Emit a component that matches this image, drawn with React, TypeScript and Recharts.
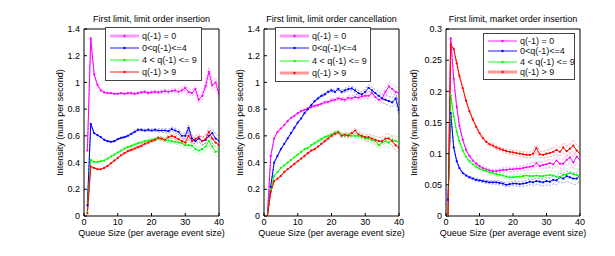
import React from 'react';
import { LineChart, Line, XAxis, YAxis } from 'recharts';

const W = 615;
const H = 256;
const FONT = '"Liberation Sans", Arial, Helvetica, sans-serif';

const seriesNames = ['q(-1) = 0', '0<q(-1)<=4', '4 < q(-1) <= 9', 'q(-1) > 9'];
const seriesColors = ['#ff00ff', '#0000ff', '#00ff00', '#ff0000'];
const legendSwatch = ['#ff99ff', '#9999ff', '#99ff99', '#ff9999'];

const xTicks = [0, 10, 20, 30, 40];
const yTicksLimit = [0, 0.2, 0.4, 0.6, 0.8, 1, 1.2, 1.4];
const yTicksMarket = [0, 0.05, 0.1, 0.15, 0.2, 0.25, 0.3];

const queueSize = [1, 2, 3, 4, 5, 6, 7, 8, 9, 10, 11, 12, 13, 14, 15, 16, 17, 18, 19, 20,
  21, 22, 23, 24, 25, 26, 27, 28, 29, 30, 31, 32, 33, 34, 35, 36, 37, 38, 39, 40];
const queueSizeMkt = [0.6, 1.4, 2.3, 3.2, 4, 5, 6, 7, 8, 9, 10, 11, 12, 13, 14, 15, 16, 17, 18, 19, 20,
  21, 22, 23, 24, 25, 26, 27, 28, 29, 30, 31, 32, 33, 34, 35, 36, 37, 38, 39, 40];

// Panel 1: limit order insertion
const insQ0 = [0.49, 1.33, 1.06, 0.98, 0.94, 0.925, 0.92, 0.92, 0.915, 0.915, 0.92, 0.915, 0.92, 0.92, 0.915, 0.92, 0.925, 0.93, 0.92, 0.925,
  0.93, 0.925, 0.93, 0.935, 0.93, 0.935, 0.94, 0.93, 0.94, 0.96, 0.93, 0.92, 0.95, 0.87, 0.9, 0.97, 1.08, 0.98, 1.0, 0.91];
const insQ4 = [0.08, 0.69, 0.62, 0.605, 0.59, 0.57, 0.56, 0.555, 0.56, 0.575, 0.585, 0.59, 0.6, 0.615, 0.63, 0.645, 0.645, 0.64, 0.645, 0.64,
  0.645, 0.64, 0.64, 0.64, 0.635, 0.65, 0.64, 0.63, 0.6, 0.6, 0.66, 0.58, 0.56, 0.58, 0.56, 0.57, 0.6, 0.62, 0.58, 0.56];
const insQ9 = [0.03, 0.42, 0.405, 0.405, 0.41, 0.415, 0.43, 0.445, 0.46, 0.475, 0.49, 0.505, 0.515, 0.525, 0.535, 0.545, 0.55, 0.56, 0.565, 0.57,
  0.575, 0.58, 0.575, 0.57, 0.565, 0.56, 0.555, 0.55, 0.545, 0.53, 0.53, 0.525, 0.5, 0.49, 0.5, 0.52, 0.56, 0.52, 0.48, 0.49];
const insQ10 = [0.02, 0.37, 0.36, 0.35, 0.35, 0.36, 0.375, 0.395, 0.415, 0.435, 0.455, 0.47, 0.485, 0.495, 0.505, 0.515, 0.525, 0.54, 0.55, 0.56,
  0.57, 0.585, 0.58, 0.57, 0.59, 0.6, 0.59, 0.575, 0.56, 0.55, 0.6, 0.56, 0.575, 0.59, 0.56, 0.575, 0.63, 0.58, 0.55, 0.53];
const insBand = [0.002, 0.003, 0.003, 0.003, 0.004, 0.004, 0.004, 0.005, 0.005, 0.005, 0.006, 0.006, 0.007, 0.007, 0.008, 0.008, 0.009, 0.009, 0.01, 0.01,
  0.011, 0.012, 0.013, 0.014, 0.015, 0.016, 0.017, 0.018, 0.019, 0.02, 0.021, 0.023, 0.024, 0.026, 0.027, 0.029, 0.031, 0.033, 0.035, 0.037];

// Panel 2: limit order cancellation
const canQ0 = [0, 0.45, 0.58, 0.63, 0.655, 0.68, 0.71, 0.735, 0.75, 0.77, 0.785, 0.795, 0.805, 0.815, 0.825, 0.83, 0.84, 0.85, 0.855, 0.865,
  0.87, 0.88, 0.875, 0.87, 0.885, 0.88, 0.89, 0.885, 0.895, 0.9, 0.9, 0.92, 0.89, 0.87, 0.88, 0.93, 0.97, 0.95, 0.93, 0.92];
const canQ4 = [0, 0.22, 0.4, 0.45, 0.5, 0.54, 0.58, 0.62, 0.66, 0.7, 0.73, 0.77, 0.8, 0.83, 0.86, 0.88, 0.9, 0.91, 0.93, 0.94,
  0.93, 0.95, 0.93, 0.94, 0.95, 0.955, 0.94, 0.92, 0.91, 0.93, 0.96, 0.94, 0.92, 0.9, 0.88, 0.87, 0.86, 0.85, 0.88, 0.79];
const canQ9 = [0, 0.2, 0.3, 0.33, 0.36, 0.38, 0.4, 0.42, 0.44, 0.46, 0.48, 0.5, 0.51, 0.53, 0.545, 0.56, 0.575, 0.59, 0.6, 0.61,
  0.625, 0.63, 0.61, 0.6, 0.61, 0.6, 0.6, 0.6, 0.59, 0.58, 0.58, 0.57, 0.56, 0.53, 0.55, 0.56, 0.55, 0.57, 0.56, 0.55];
const canQ10 = [0, 0.18, 0.26, 0.28, 0.3, 0.33, 0.35, 0.37, 0.39, 0.41, 0.43, 0.45, 0.47, 0.49, 0.5, 0.52, 0.54, 0.56, 0.58, 0.6,
  0.615, 0.625, 0.6, 0.61, 0.6, 0.62, 0.64, 0.61, 0.6, 0.59, 0.59, 0.58, 0.57, 0.56, 0.56, 0.58, 0.58, 0.56, 0.53, 0.51];
const canBand = [0.002, 0.003, 0.003, 0.003, 0.004, 0.004, 0.004, 0.005, 0.005, 0.005, 0.006, 0.006, 0.007, 0.007, 0.008, 0.008, 0.009, 0.009, 0.01, 0.011,
  0.012, 0.013, 0.014, 0.015, 0.016, 0.017, 0.018, 0.019, 0.02, 0.021, 0.023, 0.024, 0.026, 0.028, 0.03, 0.032, 0.034, 0.036, 0.038, 0.04];

// Panel 3: market order insertion
const mktQ0 = [0, 0.285, 0.22, 0.175, 0.145, 0.122, 0.106, 0.096, 0.089, 0.084, 0.08, 0.077, 0.075, 0.073, 0.072, 0.072, 0.073, 0.074, 0.074, 0.075,
  0.075, 0.076, 0.076, 0.077, 0.078, 0.079, 0.08, 0.085, 0.08, 0.082, 0.083, 0.085, 0.083, 0.089, 0.084, 0.084, 0.09, 0.094, 0.086, 0.095, 0.09];
const mktQ4 = [0.026, 0.165, 0.11, 0.088, 0.077, 0.069, 0.065, 0.062, 0.06, 0.058, 0.057, 0.056, 0.055, 0.054, 0.054, 0.054, 0.053, 0.052, 0.05, 0.051,
  0.052, 0.052, 0.051, 0.052, 0.053, 0.055, 0.054, 0.056, 0.055, 0.054, 0.056, 0.055, 0.058, 0.057, 0.062, 0.06, 0.064, 0.062, 0.06, 0.06, 0.065];
const mktQ9 = [0, 0.194, 0.16, 0.135, 0.12, 0.105, 0.095, 0.088, 0.083, 0.079, 0.076, 0.074, 0.072, 0.07, 0.069, 0.067, 0.066, 0.065, 0.063, 0.062,
  0.062, 0.063, 0.063, 0.064, 0.065, 0.064, 0.064, 0.065, 0.064, 0.064, 0.065, 0.066, 0.065, 0.063, 0.062, 0.066, 0.067, 0.069, 0.067, 0.066, 0.064];
const mktQ10 = [0, 0.275, 0.268, 0.245, 0.225, 0.205, 0.185, 0.168, 0.155, 0.143, 0.133, 0.125, 0.119, 0.115, 0.113, 0.11, 0.108, 0.106, 0.104, 0.103,
  0.102, 0.101, 0.1, 0.099, 0.098, 0.098, 0.1, 0.109, 0.099, 0.098, 0.1, 0.101, 0.103, 0.106, 0.103, 0.11, 0.104, 0.108, 0.113, 0.105, 0.1];
const mktBand = [0.001, 0.002, 0.002, 0.002, 0.002, 0.002, 0.002, 0.002, 0.002, 0.002, 0.002, 0.0025, 0.0025, 0.0025, 0.003, 0.003, 0.003, 0.003, 0.0035, 0.0035,
  0.0035, 0.004, 0.004, 0.004, 0.0045, 0.0045, 0.005, 0.005, 0.0055, 0.0055, 0.006, 0.006, 0.0065, 0.007, 0.007, 0.0075, 0.008, 0.0085, 0.009, 0.0095, 0.01];

type PanelCfg = {
  title: string;
  xs: number[];
  series: number[][];
  band: number[];
  yDomain: [number, number];
  yTicks: number[];
  boxLeft: number;
  boxWidth: number;
  plotLeft: number;
  plotRight: number;
  yLabelOffset: number;
  legend: { left: number; top: number; width: number; height: number; thick: boolean[] };
};

const panels: PanelCfg[] = [
  {
    title: 'First limit, limit order insertion',
    xs: queueSize, series: [insQ0, insQ4, insQ9, insQ10], band: insBand,
    yDomain: [0, 1.4], yTicks: yTicksLimit, boxLeft: 0, boxWidth: 245, plotLeft: 84, plotRight: 219, yLabelOffset: 6,
    legend: { left: 105, top: 27, width: 97, height: 54, thick: [true, false, false, false] },
  },
  {
    title: 'First limit, limit order cancellation',
    xs: queueSize, series: [canQ0, canQ4, canQ9, canQ10], band: canBand,
    yDomain: [0, 1.4], yTicks: yTicksLimit, boxLeft: 200, boxWidth: 225, plotLeft: 264, plotRight: 399, yLabelOffset: 6,
    legend: { left: 275, top: 27, width: 96, height: 55, thick: [true, false, false, true] },
  },
  {
    title: 'First limit, market order insertion',
    xs: queueSizeMkt, series: [mktQ0, mktQ4, mktQ9, mktQ10], band: mktBand,
    yDomain: [0, 0.3], yTicks: yTicksMarket, boxLeft: 400, boxWidth: 215, plotLeft: 446, plotRight: 580, yLabelOffset: -2,
    legend: { left: 483, top: 33, width: 92, height: 47, thick: [false, false, false, true] },
  },
];

function buildRows(xs: number[], series: number[][], band: number[]) {
  return xs.map((x, i) => {
    const row: Record<string, number> = { x };
    series.forEach((s, k) => {
      row[`s${k}`] = s[i];
      row[`s${k}lo`] = s[i] - band[i];
      row[`s${k}hi`] = s[i] + band[i];
    });
    return row;
  });
}

function LegendBox({ cfg }: { cfg: PanelCfg['legend'] }) {
  return (
    <div
      style={{
        position: 'absolute',
        left: cfg.left,
        top: cfg.top,
        width: cfg.width,
        height: cfg.height,
        boxSizing: 'border-box',
        borderWidth: 1,
        borderStyle: 'solid',
        borderColor: '#444',
        background: '#fff',
        display: 'flex',
        flexDirection: 'column',
        justifyContent: 'space-evenly',
        fontFamily: FONT,
        fontSize: 9,
        color: '#111',
        padding: '1px 0',
        zIndex: 5,
      }}
    >
      {seriesNames.map((name, k) => (
        <div key={name} style={{ display: 'flex', alignItems: 'center', height: 10, lineHeight: '10px' }}>
          <svg width={32} height={8} style={{ marginLeft: 3, marginRight: 1, flex: 'none' }}>
            <line x1={1} y1={4} x2={30} y2={4}
              stroke={cfg.thick[k] ? legendSwatch[k] : seriesColors[k]}
              strokeWidth={cfg.thick[k] ? 3 : 0.9} />
            <circle cx={15.5} cy={4} r={1.2} fill={seriesColors[k]} />
          </svg>
          <span style={{ whiteSpace: 'nowrap' }}>{name}</span>
        </div>
      ))}
    </div>
  );
}

const tickStyle = { fill: '#000', fontSize: 9, fontFamily: FONT };

function Panel({ p }: { p: PanelCfg }) {
  const rows = buildRows(p.xs, p.series, p.band);
  const YW = 30;
  const XH = 20;
  return (
    <div style={{ position: 'absolute', left: p.boxLeft, top: 0, width: p.boxWidth, height: H }}>
      <LineChart
        width={p.boxWidth}
        height={H}
        data={rows}
        margin={{ top: 28, bottom: 40 - XH, left: p.plotLeft - p.boxLeft - YW, right: p.boxLeft + p.boxWidth - p.plotRight - 1 }}
      >
        <XAxis
          xAxisId="b" dataKey="x" type="number" domain={[0, 40]} ticks={xTicks}
          height={XH} tickSize={-3} tickMargin={6} stroke="#000" tick={tickStyle}
          allowDataOverflow
          label={{ value: 'Queue Size (per average event size)', position: 'insideBottom', offset: 0, fill: '#000', fontSize: 9, fontFamily: FONT }}
        />
        <XAxis
          xAxisId="t" orientation="top" dataKey="x" type="number" domain={[0, 40]} ticks={xTicks}
          height={1} tick={false} tickSize={-3} stroke="#000" allowDataOverflow
          label={{ value: p.title, position: 'top', offset: 6, fill: '#000', fontSize: 9, fontFamily: FONT }}
        />
        <YAxis
          yAxisId="l" type="number" domain={p.yDomain} ticks={p.yTicks} width={YW}
          tickSize={-3} tickMargin={7} stroke="#000" tick={tickStyle} allowDataOverflow
          label={{ value: 'Intensity (num per second)', angle: -90, position: 'insideLeft', offset: p.yLabelOffset, fill: '#000', fontSize: 9, fontFamily: FONT, style: { textAnchor: 'middle' } }}
        />
        <YAxis
          yAxisId="r" orientation="right" type="number" domain={p.yDomain} ticks={p.yTicks} width={1}
          tick={false} tickSize={-3} stroke="#000" allowDataOverflow
        />
        <Line xAxisId="t" yAxisId="r" type="linear" dataKey="s0" stroke="none" dot={false}
          isAnimationActive={false} legendType="none" />
        {seriesColors.map((c, k) => [
          <Line key={`lo${k}`} xAxisId="b" yAxisId="l" type="linear" dataKey={`s${k}lo`} stroke={c}
            strokeOpacity={0.55} strokeWidth={0.7} strokeDasharray="2 1.5" dot={false} isAnimationActive={false} legendType="none" />,
          <Line key={`hi${k}`} xAxisId="b" yAxisId="l" type="linear" dataKey={`s${k}hi`} stroke={c}
            strokeOpacity={0.55} strokeWidth={0.7} strokeDasharray="2 1.5" dot={false} isAnimationActive={false} legendType="none" />,
          <Line key={`m${k}`} xAxisId="b" yAxisId="l" type="linear" dataKey={`s${k}`} name={seriesNames[k]} stroke={c}
            strokeWidth={1} dot={{ r: 1.1, fill: c, stroke: c, strokeWidth: 0 }} isAnimationActive={false} />,
        ])}
      </LineChart>
    </div>
  );
}

export default function App() {
  return (
    <div style={{ position: 'absolute', left: 0, top: 0, width: W, height: H, background: '#fff', overflow: 'hidden' }}>
      {panels.map((p) => (
        <Panel key={p.title} p={p} />
      ))}
      {panels.map((p) => (
        <LegendBox key={`lg-${p.title}`} cfg={p.legend} />
      ))}
    </div>
  );
}
